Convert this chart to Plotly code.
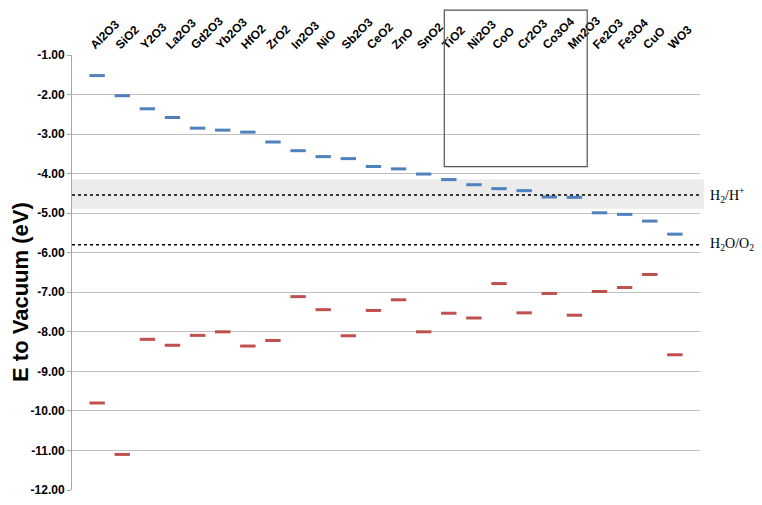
import plotly.graph_objects as go

# oxides, left to right
oxides = ["Al2O3", "SiO2", "Y2O3", "La2O3", "Gd2O3", "Yb2O3", "HfO2", "ZrO2",
          "In2O3", "NiO", "Sb2O3", "CeO2", "ZnO", "SnO2", "TiO2", "Ni2O3",
          "CoO", "Cr2O3", "Co3O4", "Mn2O3", "Fe2O3", "Fe3O4", "CuO", "WO3"]
positions = list(range(1, len(oxides) + 1))

# conduction band edge (eV vs vacuum)
cb_edge = [-1.52, -2.03, -2.36, -2.58, -2.85, -2.90, -2.95, -3.20,
           -3.42, -3.57, -3.62, -3.82, -3.88, -4.01, -4.15, -4.28,
           -4.38, -4.43, -4.59, -4.60, -4.99, -5.03, -5.20, -5.53]
# valence band edge (eV vs vacuum)
vb_edge = [-9.80, -11.10, -8.19, -8.34, -8.09, -8.00, -8.36, -8.22,
           -7.11, -7.44, -8.10, -7.46, -7.19, -8.00, -7.53, -7.65,
           -6.78, -7.52, -7.03, -7.58, -6.98, -6.88, -6.55, -8.58]

h2_level = -4.54
h2_band = [-4.14, -4.89]
o2_level = -5.80

y_ticks = [-1, -2, -3, -4, -5, -6, -7, -8, -9, -10, -11, -12]
y_ticktext = ["%.2f" % v for v in y_ticks]  # plain hyphen like the original

font = "Arial, Liberation Sans, sans-serif"
serif = "Times New Roman, Liberation Serif, serif"

fig = go.Figure()
fig.add_trace(go.Scatter(x=positions, y=cb_edge, mode="markers", name="CB",
                         marker=dict(symbol="line-ew", size=11,
                                     line=dict(width=3, color="#4F81BD"))))
fig.add_trace(go.Scatter(x=positions, y=vb_edge, mode="markers", name="VB",
                         marker=dict(symbol="line-ew", size=11,
                                     line=dict(width=3, color="#C0504D"))))

# shaded band round the H2/H+ level
fig.add_shape(type="rect", xref="paper", yref="y", x0=0, x1=1.006,
              y0=h2_band[1], y1=h2_band[0], fillcolor="#EBEBEB",
              line_width=0, layer="below")
for lvl in [h2_level, o2_level]:
    fig.add_shape(type="line", xref="paper", yref="y", x0=0, x1=1.0,
                  y0=lvl, y1=lvl, line=dict(color="black", width=1.5, dash="dot"))

# box round TiO2 ... Mn2O3
fig.add_shape(type="rect", xref="x", yref="paper", x0=14.82, x1=20.51,
              y0=0.7436, y1=1.103, line=dict(color="#555555", width=1.2))

fig.add_annotation(x=1.012, y=h2_level, xref="paper", yref="y",
                   text="H<sub>2</sub>/H<sup>+</sup>", showarrow=False, xanchor="left",
                   font=dict(family=serif, size=14, color="black"))
fig.add_annotation(x=1.012, y=o2_level, xref="paper", yref="y",
                   text="H<sub>2</sub>O/O<sub>2</sub>", showarrow=False, xanchor="left",
                   font=dict(family=serif, size=14, color="black"))

# y axis title placed by hand so the margins stay fixed
fig.add_annotation(x=-0.083, y=0.455, xref="paper", yref="paper",
                   xanchor="center", yanchor="middle",
                   text="E to Vacuum (eV)", showarrow=False, textangle=-90,
                   font=dict(family=font, size=22, weight="bold", color="black"))

# page body has an 8px margin, so the figure is a little smaller than the window
fig.update_layout(
    width=754, height=497,
    margin=dict(l=64, r=62, t=47, b=15, autoexpand=False),
    paper_bgcolor="white", plot_bgcolor="white",
    showlegend=False,
    font=dict(family=font, color="black"),
)
fig.update_xaxes(range=[0, 25], side="top", tickvals=positions, ticktext=oxides,
                 tickangle=-45, showgrid=False, zeroline=False, showline=False,
                 ticks="", automargin=False, ticklabelshift=-6,
                 tickfont=dict(size=12, family=font, weight="bold"))
fig.update_yaxes(range=[-12, -1], tickvals=y_ticks, ticktext=y_ticktext,
                 showgrid=True, gridcolor="#BFBFBF", gridwidth=1, zeroline=False,
                 showline=True, linecolor="#A6A6A6", ticks="outside", ticklen=4,
                 tickcolor="#A6A6A6", automargin=False,
                 tickfont=dict(size=12, family=font, weight="bold"))

fig.write_html("out.html")
